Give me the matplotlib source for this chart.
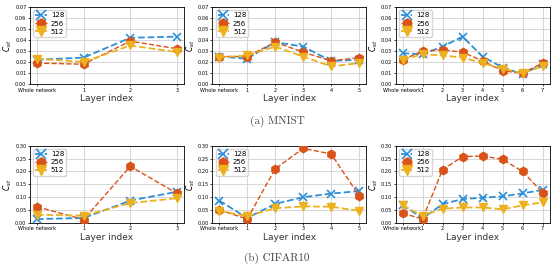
import matplotlib
matplotlib.use('Agg')
import matplotlib.pyplot as plt

# x categories per network depth
labels_3 = ['Whole network', '1', '2', '3']
labels_5 = ['Whole network', '1', '2', '3', '4', '5']
labels_7 = ['Whole network', '1', '2', '3', '4', '5', '6', '7']

# MNIST
mnist_a_128 = [0.022, 0.024, 0.042, 0.043]
mnist_a_256 = [0.019, 0.018, 0.039, 0.032]
mnist_a_512 = [0.023, 0.020, 0.035, 0.029]

mnist_b_128 = [0.025, 0.023, 0.038, 0.034, 0.021, 0.022]
mnist_b_256 = [0.025, 0.025, 0.038, 0.029, 0.021, 0.024]
mnist_b_512 = [0.024, 0.026, 0.034, 0.025, 0.016, 0.019]

mnist_c_128 = [0.028, 0.027, 0.034, 0.043, 0.025, 0.015, 0.009, 0.018]
mnist_c_256 = [0.022, 0.030, 0.031, 0.029, 0.021, 0.012, 0.010, 0.019]
mnist_c_512 = [0.022, 0.027, 0.026, 0.024, 0.019, 0.014, 0.010, 0.016]

# CIFAR10
cifar_a_128 = [0.015, 0.019, 0.087, 0.121]
cifar_a_256 = [0.063, 0.013, 0.220, 0.115]
cifar_a_512 = [0.032, 0.028, 0.077, 0.096]

cifar_b_128 = [0.087, 0.019, 0.074, 0.100, 0.114, 0.124]
cifar_b_256 = [0.051, 0.015, 0.210, 0.290, 0.268, 0.105]
cifar_b_512 = [0.047, 0.026, 0.057, 0.064, 0.063, 0.047]

cifar_c_128 = [0.070, 0.018, 0.073, 0.093, 0.098, 0.103, 0.115, 0.128]
cifar_c_256 = [0.038, 0.015, 0.207, 0.258, 0.260, 0.247, 0.200, 0.118]
cifar_c_512 = [0.068, 0.028, 0.055, 0.060, 0.060, 0.053, 0.068, 0.080]

panels = [
    (labels_3, mnist_a_128, mnist_a_256, mnist_a_512, 0.07, 0.01),
    (labels_5, mnist_b_128, mnist_b_256, mnist_b_512, 0.07, 0.01),
    (labels_7, mnist_c_128, mnist_c_256, mnist_c_512, 0.07, 0.01),
    (labels_3, cifar_a_128, cifar_a_256, cifar_a_512, 0.30, 0.05),
    (labels_5, cifar_b_128, cifar_b_256, cifar_b_512, 0.30, 0.05),
    (labels_7, cifar_c_128, cifar_c_256, cifar_c_512, 0.30, 0.05),
]

c128 = '#2f8fd6'
c256 = '#d95319'
c512 = '#edb120'

fig = plt.figure(figsize=(5.54, 2.66), dpi=100)
lefts = [0.054, 0.383, 0.714]
bottoms = [0.684, 0.162]

for i, (labels, y128, y256, y512, ymax, step) in enumerate(panels):
    ax = fig.add_axes([lefts[i % 3], bottoms[i // 3], 0.278, 0.29])
    x = list(range(len(labels)))
    ax.plot(x, y128, '--', color=c128, marker='x', ms=6, mew=1.2, lw=1.3, label='128', zorder=3)
    ax.plot(x, y256, '--', color=c256, marker='h', ms=6, lw=1.0, label='256', zorder=3)
    ax.plot(x, y512, '--', color=c512, marker='v', ms=6, lw=1.3, label='512', zorder=3)
    ax.set_xticks(x)
    ax.set_xticklabels(labels, fontsize=3.6)
    ax.set_ylim(0, ymax)
    ticks = [round(k * step, 2) for k in range(int(round(ymax / step)) + 1)]
    ax.set_yticks(ticks)
    ax.set_yticklabels(['%.2f' % t for t in ticks], fontsize=3.6)
    ax.tick_params(length=1.5, pad=1, width=0.5)
    ax.grid(True, color='#d0d0d0', lw=0.6)
    for s in ax.spines.values():
        s.set_linewidth(0.6)
    ax.set_xlabel('Layer index', fontsize=6.5, labelpad=1, color='#333333')
    ax.set_ylabel(r'$C_{st}$', fontsize=5.5, labelpad=0.5)
    ax.legend(loc='upper left', fontsize=5, markerscale=1.1, handlelength=1.6,
              borderpad=0.3, labelspacing=0.3, handletextpad=0.6, framealpha=0.8)

fig.text(0.5, 1 - 121 / 266, '(a) MNIST', ha='center', va='center', fontsize=8, family='cmr10', color='#444444')
fig.text(0.5, 1 - 258 / 266, '(b) CIFAR10', ha='center', va='center', fontsize=8, family='cmr10', color='#444444')

fig.savefig('out.png', dpi=100, facecolor='white')
